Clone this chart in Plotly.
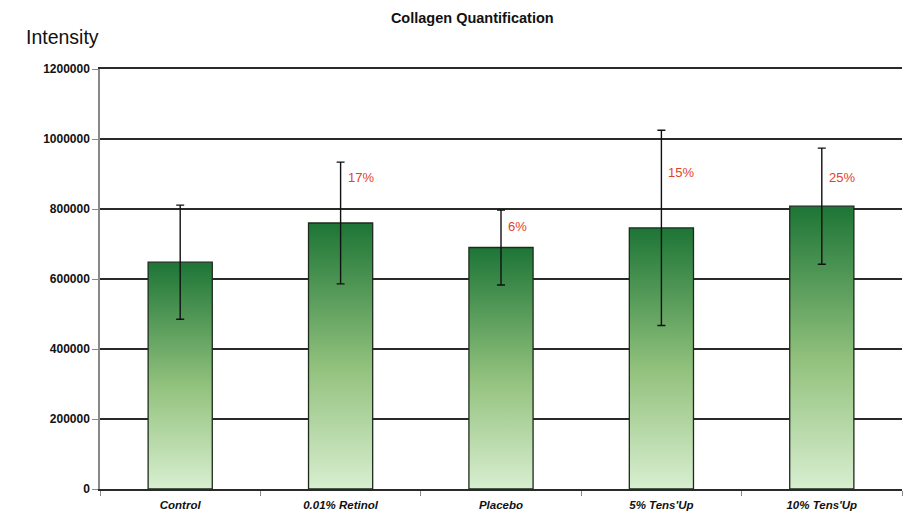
import plotly.graph_objects as go

categories = ["Control", "0.01% Retinol", "Placebo", "5% Tens'Up", "10% Tens'Up"]
values = [648000, 760000, 690000, 746000, 808000]
err_plus = [163000, 174000, 107000, 279000, 166000]
err_minus = [163000, 174000, 107000, 279000, 166000]
pct_labels = ["", "17%", "6%", "15%", "25%"]
pct_label_y = [None, 890000, 750000, 905000, 890000]
y_ticks = [0, 200000, 400000, 600000, 800000, 1000000, 1200000]

BAR_HALF = 0.2
fig = go.Figure()

for i, v in enumerate(values):
    xs = [i - BAR_HALF, i + BAR_HALF, i + BAR_HALF, i - BAR_HALF, i - BAR_HALF]
    ys = [0, 0, v, v, 0]
    fig.add_trace(go.Scatter(
        x=xs, y=ys, mode="lines", fill="toself",
        fillgradient=dict(type="vertical",
                          colorscale=[[0, "#d8eed0"], [0.45, "#93c27e"], [1, "#1d7536"]]),
        line=dict(color="#1d2b1d", width=1.3),
        hoverinfo="skip", showlegend=False))

fig.add_trace(go.Scatter(
    x=list(range(len(values))), y=values, mode="markers",
    marker=dict(size=1, color="rgba(0,0,0,0)"),
    error_y=dict(type="data", symmetric=False, array=err_plus, arrayminus=err_minus,
                 color="#111111", thickness=1.4, width=4),
    showlegend=False))

for i, (t, ly) in enumerate(zip(pct_labels, pct_label_y)):
    if t:
        fig.add_annotation(x=i, y=ly, text=t, showarrow=False, xanchor="left",
                           yanchor="middle", xshift=5,
                           font=dict(color="#e2412b", size=13, family="Liberation Sans, Arial"))

fig.add_annotation(xref="paper", yref="paper", x=-0.0945, y=1.076, text="Intensity",
                   showarrow=False, xanchor="left", yanchor="middle",
                   font=dict(size=19.5, color="#111", family="Liberation Sans, Arial"))

fig.update_layout(
    width=903, height=513,
    margin=dict(l=100, r=1, t=69, b=24),
    paper_bgcolor="white", plot_bgcolor="white",
    title=dict(text="<b>Collagen Quantification</b>", xref="container", yref="container",
               x=0.523, y=0.965, xanchor="center", yanchor="middle",
               font=dict(size=14.5, color="#111", family="Liberation Sans, Arial")),
    font=dict(family="Liberation Sans, Arial", color="#111"),
)

fig.update_xaxes(
    range=[-0.5, 4.5], tickmode="array", tickvals=list(range(len(categories))),
    ticktext=[f"<b><i>{c}</i></b>" for c in categories],
    ticks="", showgrid=False, zeroline=False, ticklabelstandoff=4,
    showline=True, linecolor="#2a2a2a", linewidth=1.5, mirror=True,
    tickfont=dict(size=11.5, color="#111"),
    minor=dict(tick0=0.5, dtick=1, ticks="outside", ticklen=5, tickcolor="#888", tickwidth=1, showgrid=False),
    automargin=False, fixedrange=True,
)
fig.update_yaxes(
    range=[0, 1200000], tickmode="array", tickvals=y_ticks,
    ticktext=[f"<b>{t}</b>" for t in y_ticks],
    ticks="outside", ticklen=6, tickcolor="#888", tickwidth=1,
    showgrid=True, gridcolor="#2a2a2a", gridwidth=1.5, zeroline=False,
    showline=True, linecolor="#888", linewidth=1.5,
    tickfont=dict(size=12, color="#111"),
    automargin=False, fixedrange=True,
)

fig.write_html("out.html", config={"displayModeBar": False},
               post_script="document.body.style.margin='0';document.body.style.overflow='hidden';")
